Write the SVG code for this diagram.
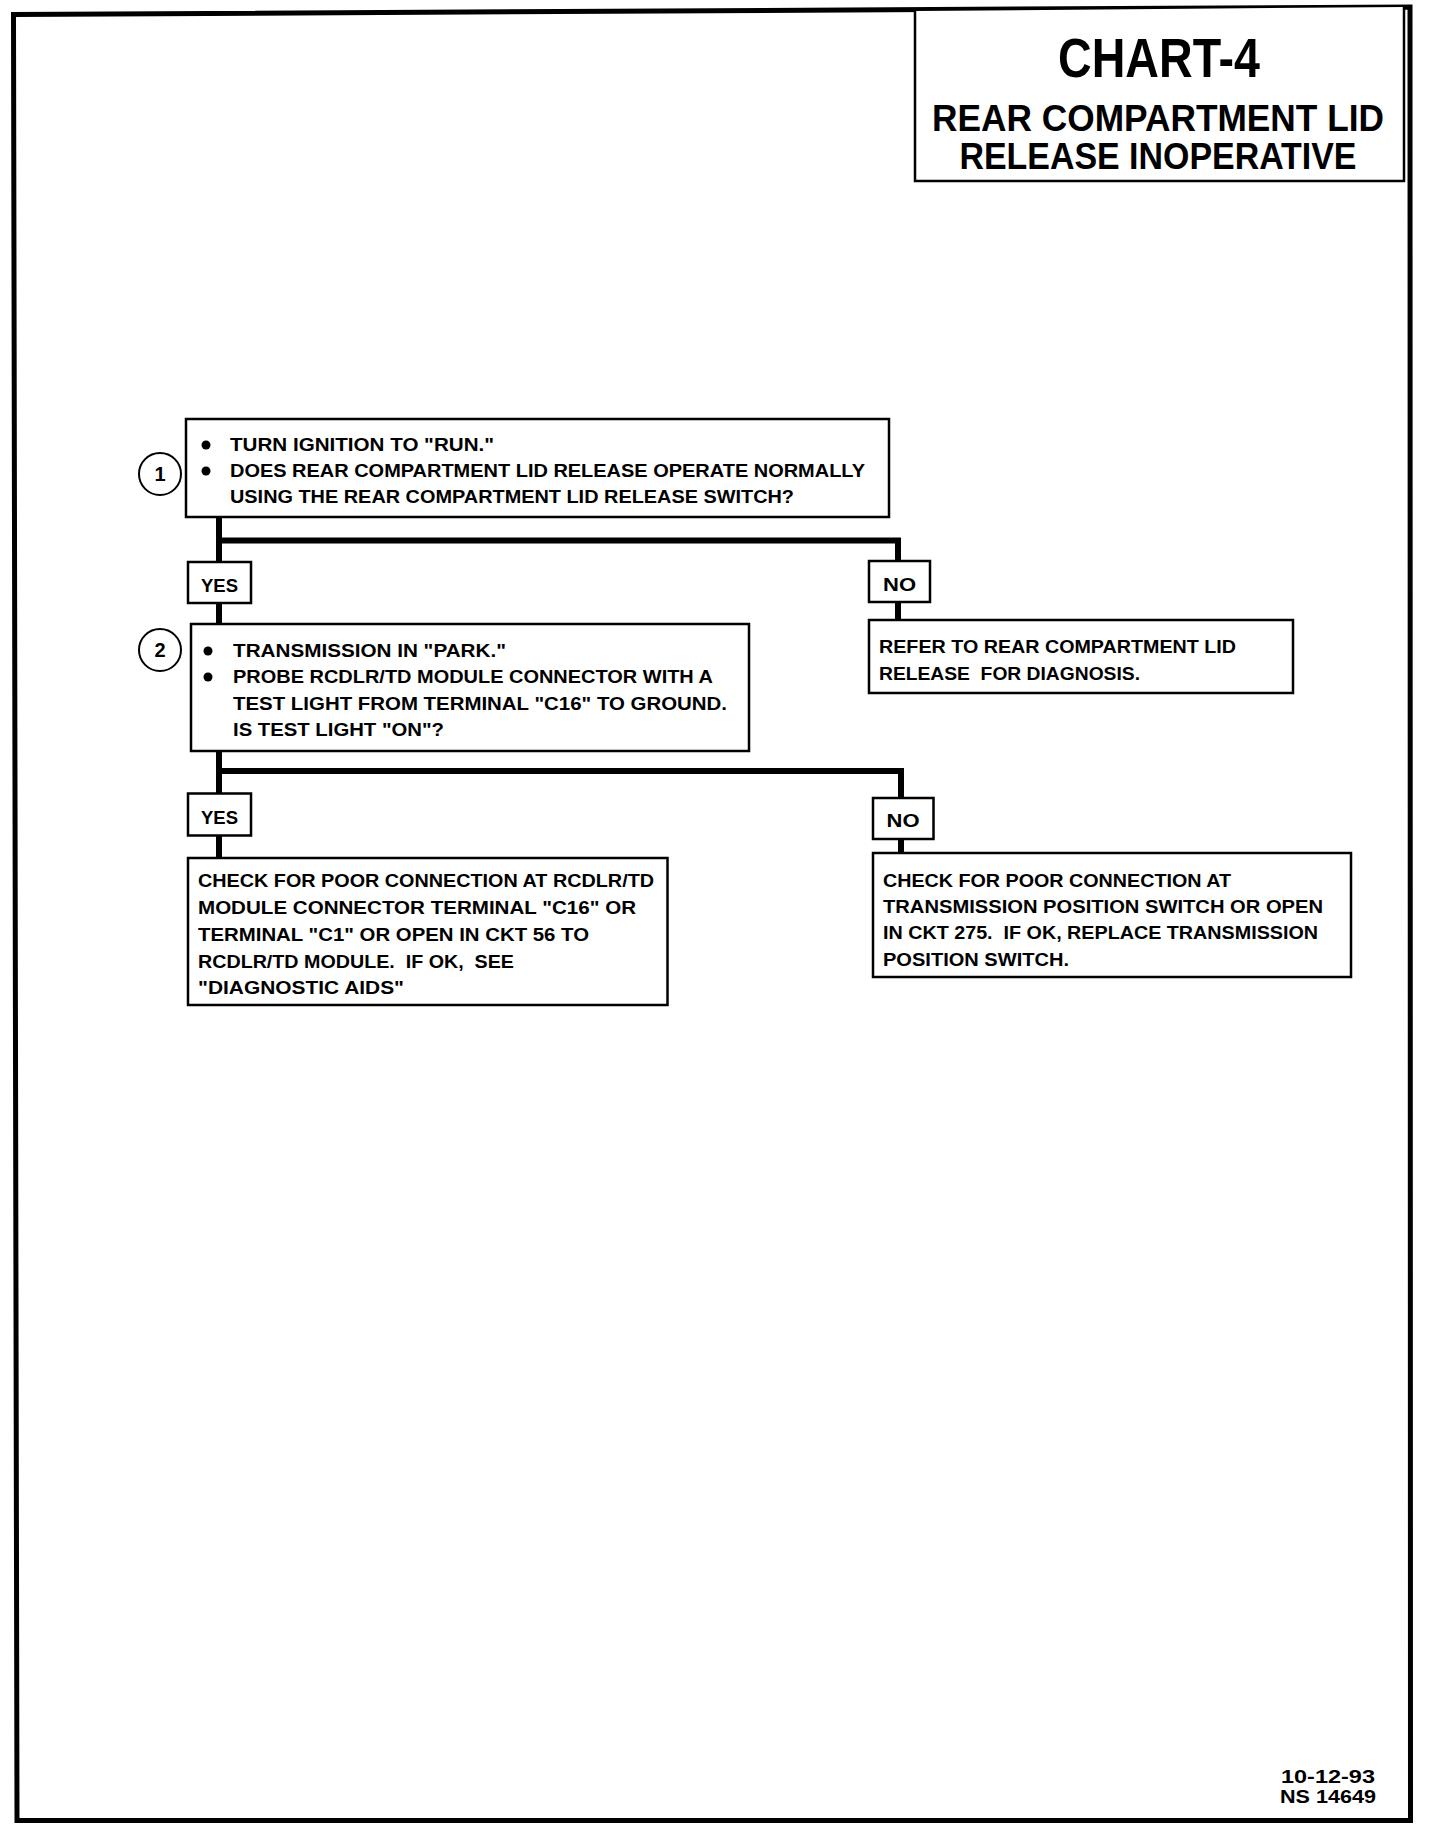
<svg xmlns="http://www.w3.org/2000/svg" width="1440" height="1830" viewBox="0 0 1440 1830">
<style>
.frame{fill:none;stroke:#000;stroke-width:5;stroke-linejoin:miter}
.box{fill:#fff;stroke:#000;stroke-width:2.5}
.conn{fill:none;stroke:#000;stroke-width:6;stroke-linejoin:miter;stroke-linecap:butt}
.t{font-family:"Liberation Sans",Arial,sans-serif;font-weight:bold;font-size:19px;fill:#000;white-space:pre}
.lbl{font-family:"Liberation Sans",Arial,sans-serif;font-weight:bold;font-size:18px;fill:#000;text-anchor:middle}
.num{font-family:"Liberation Sans",Arial,sans-serif;font-weight:bold;font-size:20px;fill:#000;text-anchor:middle}
.ttl{font-family:"Liberation Sans",Arial,sans-serif;font-weight:bold;fill:#000;text-anchor:middle}
.circ{fill:#fff;stroke:#000;stroke-width:2}
.dot{fill:#000}
</style>
<rect x="0" y="0" width="1440" height="1830" fill="#fff"/>
<polygon class="frame" points="13.5,14.5 1410,7 1410.5,1820.5 17,1820.5"/>

<g id="title">
  <polyline class="box" fill="none" points="915,11 915,181 1404,181 1404,7"/>
  <text class="ttl" x="1159" y="77" font-size="56" textLength="202" lengthAdjust="spacingAndGlyphs">CHART-4</text>
  <text class="ttl" x="1158" y="131" font-size="36" textLength="452" lengthAdjust="spacingAndGlyphs">REAR COMPARTMENT LID</text>
  <text class="ttl" x="1158" y="169" font-size="36" textLength="397" lengthAdjust="spacingAndGlyphs">RELEASE INOPERATIVE</text>
</g>

<g id="connectors">
  <path class="conn" d="M219,518 V625"/>
  <path class="conn" d="M219,540.5 H898 V620"/>
  <path class="conn" d="M219,751 V858"/>
  <path class="conn" d="M219,771 H901 V853"/>
</g>

<g id="step1">
  <circle class="circ" cx="160" cy="474" r="21"/>
  <text class="num" x="160" y="481">1</text>
  <rect class="box" x="186" y="419" width="703" height="98"/>
  <circle class="dot" cx="206" cy="445" r="4.5"/>
  <circle class="dot" cx="206" cy="471" r="4.5"/>
  <text class="t" x="230" y="451" textLength="264" lengthAdjust="spacingAndGlyphs">TURN IGNITION TO "RUN."</text>
  <text class="t" x="230" y="477" textLength="635" lengthAdjust="spacingAndGlyphs">DOES REAR COMPARTMENT LID RELEASE OPERATE NORMALLY</text>
  <text class="t" x="230" y="503" textLength="564" lengthAdjust="spacingAndGlyphs">USING THE REAR COMPARTMENT LID RELEASE SWITCH?</text>
</g>

<g id="yes1">
  <rect class="box" x="188" y="562" width="63" height="41"/>
  <text class="lbl" x="219.5" y="592" textLength="37" lengthAdjust="spacingAndGlyphs">YES</text>
</g>

<g id="no1">
  <rect class="box" x="869" y="561" width="61" height="41"/>
  <text class="lbl" x="899.5" y="591" textLength="33" lengthAdjust="spacingAndGlyphs">NO</text>
</g>

<g id="refer">
  <rect class="box" x="869" y="620" width="424" height="73"/>
  <text class="t" x="879" y="653" textLength="357" lengthAdjust="spacingAndGlyphs">REFER TO REAR COMPARTMENT LID</text>
  <text class="t" x="879" y="680" textLength="261" lengthAdjust="spacingAndGlyphs">RELEASE  FOR DIAGNOSIS.</text>
</g>

<g id="step2">
  <circle class="circ" cx="160" cy="650" r="21"/>
  <text class="num" x="160" y="657">2</text>
  <rect class="box" x="191" y="624" width="558" height="127"/>
  <circle class="dot" cx="208" cy="651" r="4.5"/>
  <circle class="dot" cx="208" cy="677" r="4.5"/>
  <text class="t" x="233" y="657" textLength="273" lengthAdjust="spacingAndGlyphs">TRANSMISSION IN "PARK."</text>
  <text class="t" x="233" y="683" textLength="480" lengthAdjust="spacingAndGlyphs">PROBE RCDLR/TD MODULE CONNECTOR WITH A</text>
  <text class="t" x="233" y="709.5" textLength="494" lengthAdjust="spacingAndGlyphs">TEST LIGHT FROM TERMINAL "C16" TO GROUND.</text>
  <text class="t" x="233" y="736" textLength="211" lengthAdjust="spacingAndGlyphs">IS TEST LIGHT "ON"?</text>
</g>

<g id="yes2">
  <rect class="box" x="188" y="793.5" width="63" height="42"/>
  <text class="lbl" x="219.5" y="824" textLength="37" lengthAdjust="spacingAndGlyphs">YES</text>
</g>

<g id="no2">
  <rect class="box" x="873" y="798" width="60.5" height="41"/>
  <text class="lbl" x="903" y="827" textLength="33" lengthAdjust="spacingAndGlyphs">NO</text>
</g>

<g id="result-yes">
  <rect class="box" x="188" y="858" width="479.5" height="147"/>
  <text class="t" x="198" y="887" textLength="456" lengthAdjust="spacingAndGlyphs">CHECK FOR POOR CONNECTION AT RCDLR/TD</text>
  <text class="t" x="198" y="914" textLength="438" lengthAdjust="spacingAndGlyphs">MODULE CONNECTOR TERMINAL "C16" OR</text>
  <text class="t" x="198" y="940.5" textLength="391" lengthAdjust="spacingAndGlyphs">TERMINAL "C1" OR OPEN IN CKT 56 TO</text>
  <text class="t" x="198" y="967.5" textLength="316" lengthAdjust="spacingAndGlyphs">RCDLR/TD MODULE.  IF OK,  SEE</text>
  <text class="t" x="198" y="994" textLength="206" lengthAdjust="spacingAndGlyphs">"DIAGNOSTIC AIDS"</text>
</g>

<g id="result-no">
  <rect class="box" x="873" y="853" width="478" height="124"/>
  <text class="t" x="883" y="887" textLength="348" lengthAdjust="spacingAndGlyphs">CHECK FOR POOR CONNECTION AT</text>
  <text class="t" x="883" y="912.5" textLength="440" lengthAdjust="spacingAndGlyphs">TRANSMISSION POSITION SWITCH OR OPEN</text>
  <text class="t" x="883" y="939" textLength="435" lengthAdjust="spacingAndGlyphs">IN CKT 275.  IF OK, REPLACE TRANSMISSION</text>
  <text class="t" x="883" y="966" textLength="186" lengthAdjust="spacingAndGlyphs">POSITION SWITCH.</text>
</g>

<g id="footer">
  <text class="t" x="1328" y="1783" text-anchor="middle" textLength="94" lengthAdjust="spacingAndGlyphs">10-12-93</text>
  <text class="t" x="1328" y="1803" text-anchor="middle" textLength="96" lengthAdjust="spacingAndGlyphs">NS 14649</text>
</g>
</svg>
